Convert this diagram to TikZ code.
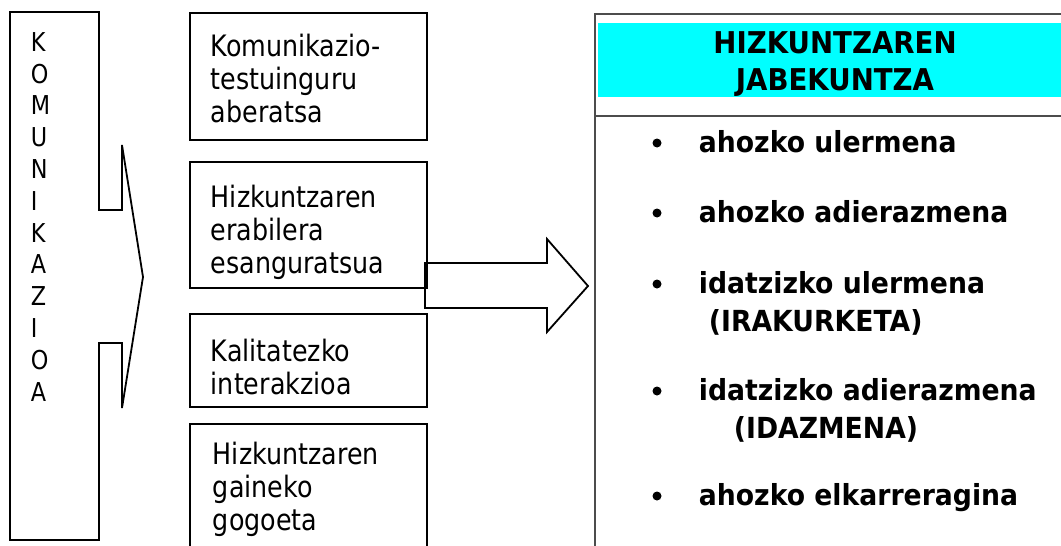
\documentclass[tikz,border=0pt]{standalone}
\usepackage{fontspec}
\setmainfont{DejaVu Sans}[FakeStretch=0.86]
\newfontfamily\itemfont{DejaVu Sans}[FakeStretch=0.92]
\definecolor{aqua}{RGB}{0,255,255}

\begin{document}
\begin{tikzpicture}[x=1pt, y=-1pt, line width=1.8pt,
	midbox/.style={draw, minimum width=237pt, anchor=north west, inner sep=0pt},
	boxtext/.style={anchor=base west, align=left, inner sep=0pt, font=\fontsize{29.5}{33}\selectfont},
	itemtext/.style={anchor=base west, align=left, inner sep=0pt, font=\itemfont\bfseries\fontsize{29}{38}\selectfont}]
	\clip (0,0) rectangle (1061,546);
	% left callout
	\draw (10,12) -- (99,12) -- (99,210) -- (122,210) -- (122,145) -- (143,277) -- (122,408) -- (122,343) -- (99,343) -- (99,540) -- (10,540) -- cycle;
	\node[anchor=base west, align=left, inner sep=0pt, font=\fontsize{26}{31.8}\selectfont] (komu) at (30,401) {K\\O\\M\\U\\N\\I\\K\\A\\Z\\I\\O\\A};
	% middle boxes
	\node[midbox, minimum height=127pt] (ctx)  at (189,12)  {};
	\node[midbox, minimum height=126pt] (use)  at (189,161) {};
	\node[midbox, minimum height=93pt]  (qual) at (189,313) {};
	\node[midbox, minimum height=140pt] (refl) at (189,423) {};
	\node[boxtext] (ctxtext)  at (210,122) {Komunikazio-\\testuinguru\\aberatsa};
	\node[boxtext] (usetext)  at (210,273) {Hizkuntzaren\\erabilera\\esanguratsua};
	\node[boxtext] (qualtext) at (210,394) {Kalitatezko\\interakzioa};
	\node[boxtext] (refltext) at (212,530) {Hizkuntzaren\\gaineko\\gogoeta};
	% big arrow
	\draw (425,263) -- (547,263) -- (547,239) -- (588,286) -- (547,332) -- (547,308) -- (425,308) -- cycle;
	% right box
	\node[draw=black!70, minimum width=486pt, minimum height=560pt, anchor=north west, inner sep=0pt] (acq) at (594,13) {};
	\fill[aqua] (598,23) rectangle (1076,97);
	\draw[black!70] (acq.west |- 0,116) -- (acq.east |- 0,116);
	\node[anchor=base, align=center, inner sep=0pt, font=\itemfont\bfseries\fontsize{30}{37}\selectfont] (head) at (835,90) {HIZKUNTZAREN\\JABEKUNTZA};
	\foreach \yb/\txt [count=\i] in {151/{ahozko ulermena}, 221/{ahozko adierazmena}, 292/{idatzizko ulermena\\\hspace*{10pt}(IRAKURKETA)}, 399/{idatzizko adierazmena\\\hspace*{35pt}(IDAZMENA)}, 504/{ahozko elkarreragina}} {
		\fill (657,\yb-8) circle (4.5);
		\node[itemtext, anchor=north west] (item\i) at (698,\yb-21) {\txt};
	}
\end{tikzpicture}
\end{document}
